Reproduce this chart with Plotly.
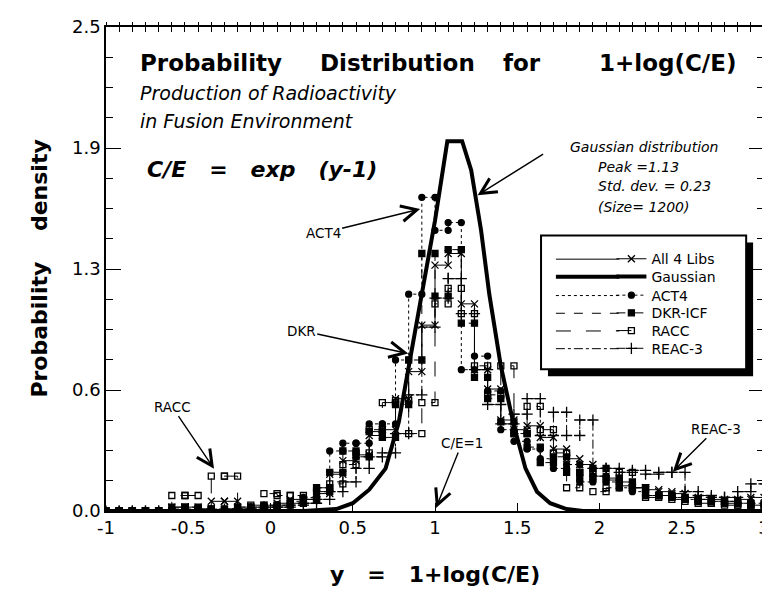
import plotly.graph_objects as go

# ---------------- data ----------------
bin_edges = [-1.00, -0.92, -0.84, -0.76, -0.68, -0.60, -0.52, -0.44, -0.36, -0.28,
             -0.20, -0.12, -0.04, 0.04, 0.12, 0.20, 0.28, 0.36, 0.44, 0.52,
             0.60, 0.68, 0.76, 0.84, 0.92, 1.00, 1.08, 1.16, 1.24, 1.32,
             1.40, 1.48, 1.56, 1.64, 1.72, 1.80, 1.88, 1.96, 2.04, 2.12,
             2.20, 2.28, 2.36, 2.44, 2.52, 2.60, 2.68, 2.76, 2.84, 2.92, 3.00]

all4 = [0, 0, 0, 0, 0, 0.02, 0.02, 0.01, 0.05, 0.05,
        0.02, 0.02, 0.03, 0.04, 0.06, 0.06, 0.09, 0.19, 0.26, 0.29,
        0.39, 0.42, 0.58, 0.72, 0.96, 1.27, 1.33, 1.07, 0.73, 0.63,
        0.47, 0.42, 0.44, 0.38, 0.32, 0.27, 0.24, 0.18, 0.16, 0.13,
        0.12, 0.11, 0.10, 0.09, 0.07, 0.06, 0.06, 0.05, 0.06, 0.07]

act4 = [0, 0, 0, 0, 0, 0.01, 0.01, 0.01, 0, 0.01,
        0.02, 0.02, 0.03, 0.03, 0.05, 0.07, 0.12, 0.31, 0.35, 0.35,
        0.45, 0.45, 0.78, 1.12, 1.62, 1.45, 1.49, 0.73, 0.80, 0.62,
        0.42, 0.36, 0.32, 0.27, 0.22, 0.24, 0.15, 0.18, 0.15, 0.12,
        0.10, 0.08, 0.08, 0.07, 0.06, 0.06, 0.05, 0.05, 0.04, 0.04]

dkr = [0, 0, 0, 0, 0, 0.02, 0.02, 0.01, 0.01, 0.01,
       0.01, 0.02, 0.02, 0.03, 0.04, 0.06, 0.10, 0.20, 0.31, 0.28,
       0.41, 0.38, 0.55, 0.78, 1.33, 1.11, 1.35, 0.97, 0.69, 0.58,
       0.46, 0.40, 0.33, 0.25, 0.28, 0.20, 0.17, 0.22, 0.17, 0.15,
       0.12, 0.08, 0.08, 0.07, 0.06, 0.05, 0.05, 0.04, 0.04, 0.03]

racc = [0, 0, 0, 0, 0, 0.08, 0.08, 0.01, 0.18, 0.18,
        0.02, 0.03, 0.09, 0.08, 0.08, 0.06, 0.12, 0.14, 0.24, 0.30,
        0.42, 0.56, 0.57, 0.40, 0.56, 1.07, 1.15, 1.02, 0.75, 0.60,
        0.75, 0.40, 0.54, 0.42, 0.30, 0.12, 0.20, 0.10, 0.12, 0.20,
        0.12, 0.07, 0.08, 0.06, 0.05, 0.04, 0.04, 0.03, 0.03, 0.03]

reac3 = [0, 0, 0, 0, 0, 0, 0, 0, 0, 0.01,
         0.01, 0.01, 0.02, 0.02, 0.03, 0.04, 0.06, 0.10, 0.15, 0.22,
         0.28, 0.30, 0.40, 0.60, 0.95, 1.10, 1.20, 1.02, 0.73, 0.55,
         0.45, 0.50, 0.58, 0.39, 0.51, 0.39, 0.47, 0.22, 0.22, 0.20,
         0.21, 0.19, 0.20, 0.20, 0.10, 0.08, 0.07, 0.07, 0.10, 0.14]

gauss_x = [-1.0, 0.2, 0.4, 0.5, 0.6, 0.7, 0.78, 0.85, 0.92, 1.0, 1.075, 1.165,
           1.22, 1.28, 1.33, 1.40, 1.48, 1.55, 1.62, 1.70, 1.80, 1.90, 3.0]
gauss_y = [0, 0, 0.01, 0.04, 0.11, 0.22, 0.46, 0.80, 1.12, 1.50, 1.91, 1.91,
           1.76, 1.45, 1.12, 0.75, 0.44, 0.22, 0.10, 0.04, 0.01, 0, 0]

y_tickvals = [0, 0.625, 1.25, 1.875, 2.5]
y_ticktext = ["0.0", "0.6", "1.3", "1.9", "2.5"]
x_tickvals = [-1, -0.5, 0, 0.5, 1, 1.5, 2, 2.5, 3]
x_ticktext = ["-1", "-0.5", "0", "0.5", "1", "1.5", "2", "2.5", "3"]


def steps(vals):
    xs, ys = [], []
    for k, v in enumerate(vals):
        xs += [bin_edges[k], bin_edges[k + 1]]
        ys += [v, v]
    return xs, ys


# ---------------- geometry helpers (pixel -> data/paper) ----------------
L, R, T, B = 98, 762, 11, 503
W, H = 770, 594


def px(xpix):
    return -1 + (xpix - L) / (R - L) * 4


def py(ypix):
    return (B - ypix) / (B - T) * 2.5


def pxp(xpix):
    return (xpix - L) / (R - L)


def pyp(ypix):
    return (B - ypix) / (B - T)


SANS = "DejaVu Sans, Verdana, sans-serif"

fig = go.Figure()

# legend rows (one legend per entry so that row spacing matches)
row_y = {"All 4 Libs": 247, "Gaussian": 265, "ACT4": 284,
         "DKR-ICF": 302, "RACC": 320, "REAC-3": 338}
legend_ids = {"All 4 Libs": "legend", "Gaussian": "legend2", "ACT4": "legend3",
              "DKR-ICF": "legend4", "RACC": "legend5", "REAC-3": "legend6"}

series = [
    ("All 4 Libs", all4, "solid", "x-thin-open", 7),
    ("ACT4", act4, "dot", "circle", 6),
    ("DKR-ICF", dkr, "dash", "square", 6),
    ("RACC", racc, "longdash", "square-open", 6),
    ("REAC-3", reac3, "dashdot", "cross-thin-open", 8),
]
for name, vals, dash, sym, size in series:
    xs, ys = steps(vals)
    fig.add_trace(go.Scatter(
        x=xs, y=ys, name=name, mode="lines+markers",
        line=dict(color="black", width=1, dash=dash),
        marker=dict(symbol=sym, size=size, color="black",
                    line=dict(color="black", width=1.3)),
        legend=legend_ids[name], hoverinfo="skip"))

fig.add_trace(go.Scatter(
    x=gauss_x, y=gauss_y, name="Gaussian", mode="lines",
    line=dict(color="black", width=4), legend=legend_ids["Gaussian"],
    hoverinfo="skip"))

# dummy traces for the top axes (bin-edge crosses)
for ax in ["x2", "x3"]:
    fig.add_trace(go.Scatter(x=[-1], y=[0], xaxis=ax, mode="markers",
                             marker=dict(opacity=0), showlegend=False,
                             hoverinfo="skip"))

# ---------------- legend box with shadow ----------------
fig.add_shape(type="rect", xref="paper", yref="paper",
              x0=pxp(544), x1=pxp(751), y0=pyp(366), y1=pyp(230),
              fillcolor="black", line=dict(width=0), layer="above")
fig.add_shape(type="rect", xref="paper", yref="paper",
              x0=pxp(537), x1=pxp(744), y0=pyp(359), y1=pyp(223),
              fillcolor="white", line=dict(color="black", width=2), layer="above")
# longer legend sample lines (left part of each sample)
sample_style = {"All 4 Libs": ("solid", 1), "Gaussian": ("solid", 4),
                "ACT4": ("dot", 1), "DKR-ICF": ("dash", 1),
                "RACC": ("longdash", 1), "REAC-3": ("dashdot", 1)}
for name, yy in row_y.items():
    dsh, wd = sample_style[name]
    fig.add_shape(type="line", xref="paper", yref="paper",
                  x0=pxp(552), x1=pxp(616), y0=pyp(yy), y1=pyp(yy),
                  line=dict(color="black", width=wd, dash=dsh), layer="above")

# ---------------- texts ----------------
ann = []
title_font = dict(family="DejaVu Sans", size=23, color="black")
for word, left in [("<b>Probability</b>", 130), ("<b>Distribution</b>", 312),
                   ("<b>for</b>", 497), ("<b>1+log(C/E)</b>", 593)]:
    ann.append(dict(text=word, x=pxp(left), y=pyp(48), xref="paper", yref="paper",
                    xanchor="left", yanchor="middle", showarrow=False, font=title_font))

it_font = dict(family=SANS, size=19, color="black")
ann.append(dict(text="<i>Production of Radioactivity</i>", x=pxp(130), y=pyp(78),
                xref="paper", yref="paper", xanchor="left", yanchor="middle",
                showarrow=False, font=it_font))
ann.append(dict(text="<i>in Fusion Environment</i>", x=pxp(130), y=pyp(107),
                xref="paper", yref="paper", xanchor="left", yanchor="middle",
                showarrow=False, font=it_font))
ann.append(dict(text="<b><i>C/E\u00a0\u00a0\u00a0=\u00a0\u00a0\u00a0exp\u00a0\u00a0\u00a0(y-1)</i></b>",
                x=pxp(373), y=pyp(156), xref="paper", yref="paper",
                xanchor="right", yanchor="middle", showarrow=False,
                font=dict(family=SANS, size=22, color="black")))

small_it = dict(family=SANS, size=14, color="black")
ann.append(dict(text="<i>Gaussian distribution</i>", x=pxp(718), y=pyp(133),
                xref="paper", yref="paper", xanchor="right", yanchor="middle",
                showarrow=False, font=small_it))
for txt, yy in [("<i>Peak =1.13</i>", 153), ("<i>Std. dev. = 0.23</i>", 173),
                ("<i>(Size= 1200)</i>", 194)]:
    ann.append(dict(text=txt, x=pxp(592), y=pyp(yy), xref="paper", yref="paper",
                    xanchor="left", yanchor="middle", showarrow=False, font=small_it))

# arrows (tip -> label position, in pixels converted to data / offsets)
lab_font = dict(family=SANS, size=13.5, color="black")
arrows = [
    ("ACT4", (415, 196), (318, 220)),
    ("DKR", (403, 343), (296, 320)),
    ("RACC", (207, 460), (165, 398)),
    ("C/E=1", (431, 500), (457, 435)),
    ("REAC-3", (670, 463), (713, 420)),
    ("", (473, 182), (540, 140)),
]
for txt, tip, lab in arrows:
    ann.append(dict(text=txt, x=px(tip[0]), y=py(tip[1]), xref="x", yref="y",
                    ax=lab[0] - tip[0], ay=lab[1] - tip[1], axref="pixel", ayref="pixel",
                    showarrow=True, arrowhead=5, arrowsize=2.2, arrowwidth=1.4,
                    arrowcolor="black", font=lab_font, standoff=0, startstandoff=0))

# axis titles
ann.append(dict(text="<b>Probability\u00a0\u00a0\u00a0\u00a0density</b>", x=pxp(30), y=pyp(257),
                xref="paper", yref="paper", textangle=-90, showarrow=False,
                xanchor="center", yanchor="middle",
                font=dict(family=SANS, size=22, color="black")))
ann.append(dict(text="<b>y\u00a0\u00a0\u00a0=\u00a0\u00a0\u00a01+log(C/E)</b>", x=pxp(430), y=pyp(568),
                xref="paper", yref="paper", showarrow=False,
                xanchor="center", yanchor="middle",
                font=dict(family=SANS, size=22, color="black")))

legend_layout = {}
for name, lid in legend_ids.items():
    legend_layout[lid] = dict(
        x=pxp(608), y=pyp(row_y[name]), xanchor="left", yanchor="middle",
        bgcolor="rgba(0,0,0,0)", borderwidth=0,
        font=dict(family=SANS, size=14, color="black"), itemwidth=30)

fig.update_layout(
    width=W, height=H,
    margin=dict(l=L, r=W - R, t=T, b=H - B),
    paper_bgcolor="white", plot_bgcolor="white",
    showlegend=True,
    annotations=ann,
    xaxis=dict(range=[-1, 3], tickvals=x_tickvals, ticktext=x_ticktext,
               showgrid=False, zeroline=False, showline=True, linecolor="black",
               linewidth=1.5, mirror=True, ticks="inside", ticklen=8,
               tickcolor="black", tickwidth=1.2, ticklabeloverflow="allow",
               tickfont=dict(family=SANS, size=18, color="black")),
    xaxis2=dict(range=[-1, 3], overlaying="x", side="top", showgrid=False,
                zeroline=False, showticklabels=False, tick0=-1, dtick=0.08,
                ticks="outside", ticklen=4, tickcolor="black", tickwidth=1),
    xaxis3=dict(range=[-1, 3], overlaying="x", side="top", showgrid=False,
                zeroline=False, showticklabels=False, tick0=-1, dtick=0.08,
                ticks="inside", ticklen=5, tickcolor="black", tickwidth=1),
    yaxis=dict(range=[0, 2.5], tickvals=y_tickvals, ticktext=y_ticktext,
               showgrid=False, zeroline=False, showline=True, linecolor="black",
               linewidth=1.5, mirror="ticks", ticks="inside", ticklen=15,
               tickcolor="black", tickwidth=1.2,
               minor=dict(ticks="inside", ticklen=7, tick0=0, dtick=0.15625,
                          tickcolor="black", tickwidth=1),
               tickfont=dict(family=SANS, size=18, color="black")),
    **legend_layout,
)

fig.write_html("out.html")
